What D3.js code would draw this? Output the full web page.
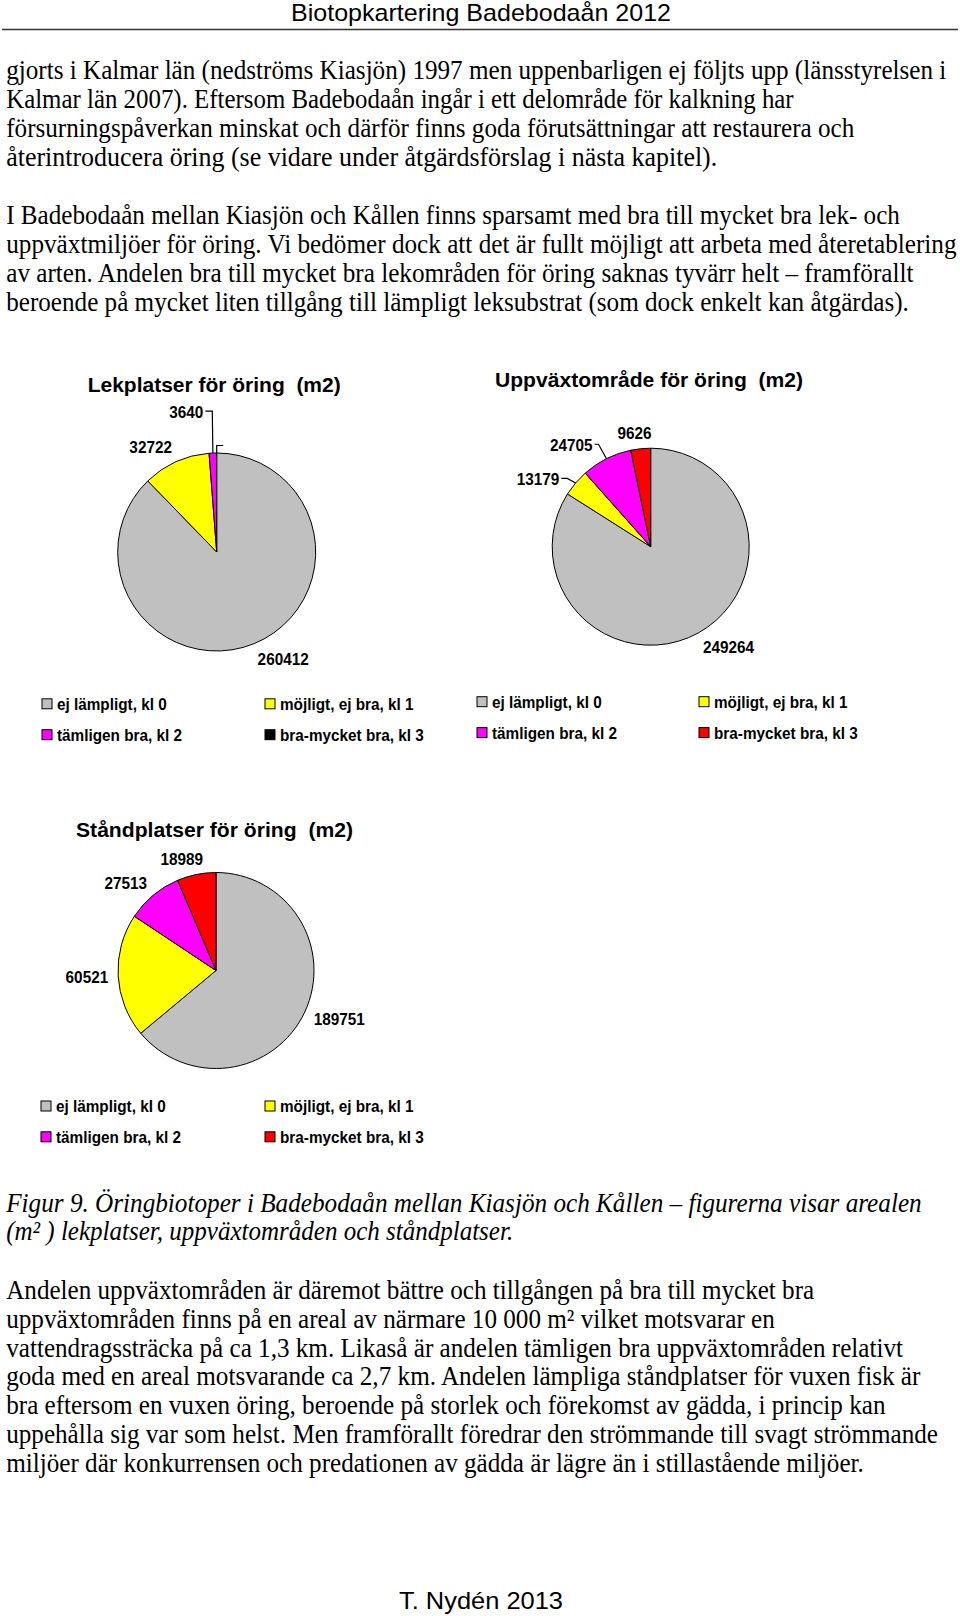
<!DOCTYPE html>
<html><head><meta charset="utf-8">
<script src="https://cdn.jsdelivr.net/npm/d3@7"></script>
<style>body{margin:0;background:#fff} svg{display:block}</style>
</head><body><svg id="c" width="960" height="1616"></svg>
<script>
// ---------- data ----------
const categories = ["ej lämpligt, kl 0", "möjligt, ej bra, kl 1", "tämligen bra, kl 2", "bra-mycket bra, kl 3"];
const lekValues = [260412, 32722, 3640, 0];
const uppValues = [249264, 13179, 24705, 9626];
const standValues = [189751, 60521, 27513, 18989];
const chartTitles = ["Lekplatser för öring  (m2)", "Uppväxtområde för öring  (m2)", "Ståndplatser för öring  (m2)"];
const colorsLek = ["#C0C0C0", "#FFFF00", "#FF00FF", "#000000"];
const colorsOther = ["#C0C0C0", "#FFFF00", "#FF00FF", "#FF0000"];

const headerText = "Biotopkartering Badebodaån 2012";
const footerText = "T. Nydén 2013";
const para1 = [
  "gjorts i Kalmar län (nedströms Kiasjön) 1997 men uppenbarligen ej följts upp (länsstyrelsen i",
  "Kalmar län 2007). Eftersom Badebodaån ingår i ett delområde för kalkning har",
  "försurningspåverkan minskat och därför finns goda förutsättningar att restaurera och",
  "återintroducera öring (se vidare under åtgärdsförslag i nästa kapitel)."
];
const para2 = [
  "I Badebodaån mellan Kiasjön och Kållen finns sparsamt med bra till mycket bra lek- och",
  "uppväxtmiljöer för öring. Vi bedömer dock att det är fullt möjligt att arbeta med återetablering",
  "av arten. Andelen bra till mycket bra lekområden för öring saknas tyvärr helt – framförallt",
  "beroende på mycket liten tillgång till lämpligt leksubstrat (som dock enkelt kan åtgärdas)."
];
const captionLines = [
  "Figur 9. Öringbiotoper i Badebodaån mellan Kiasjön och Kållen – figurerna visar arealen",
  "(m² ) lekplatser, uppväxtområden och ståndplatser."
];
const para3 = [
  "Andelen uppväxtområden är däremot bättre och tillgången på bra till mycket bra",
  "uppväxtområden finns på en areal av närmare 10 000 m² vilket motsvarar en",
  "vattendragssträcka på ca 1,3 km. Likaså är andelen tämligen bra uppväxtområden relativt",
  "goda med en areal motsvarande ca 2,7 km. Andelen lämpliga ståndplatser för vuxen fisk är",
  "bra eftersom en vuxen öring, beroende på storlek och förekomst av gädda, i princip kan",
  "uppehålla sig var som helst. Men framförallt föredrar den strömmande till svagt strömmande",
  "miljöer där konkurrensen och predationen av gädda är lägre än i stillastående miljöer."
];

// ---------- layout ----------
const svg = d3.select("#c");
const lineH = 28.87;
const textX = 6.2;
const para1Widths = [940.4, 787.8, 848.6, 711.5];
const para2Widths = [894, 950.7, 907.4, 903.2];
const captionWidths = [915.6, 507.3];
const para3Widths = [808.4, 769.2, 897.1, 914.6, 879.5, 932.1, 857.9];

function drawLines(lines, widths, y0, italic) {
  lines.forEach((ln, i) => {
    const g = svg.append("g");
    const t = g.append("text")
      .attr("x", 0).attr("y", 0)
      .attr("font-family", "'Liberation Serif', 'Times New Roman', serif")
      .attr("font-size", 27)
      .attr("font-style", italic ? "italic" : "normal")
      .attr("fill", "#000")
      .style("white-space", "pre")
      .text(ln);
    const w = t.node().getComputedTextLength();
    g.attr("transform", `translate(${textX},${y0 + i * lineH}) scale(${widths[i] / w},1)`);
  });
}

// header
svg.append("text").attr("x", 481).attr("y", 21).attr("text-anchor", "middle")
  .attr("font-family", "'Liberation Sans', Arial, sans-serif").attr("font-size", 24)
  .attr("textLength", 380).attr("lengthAdjust", "spacingAndGlyphs")
  .text(headerText);
svg.append("line").attr("x1", 2).attr("x2", 958).attr("y1", 29.5).attr("y2", 29.5)
  .attr("stroke", "#333").attr("stroke-width", 1.5);

drawLines(para1, para1Widths, 79, false);
drawLines(para2, para2Widths, 224.3, false);
drawLines(captionLines, captionWidths, 1211.5, true);
drawLines(para3, para3Widths, 1298.8, false);

// footer
svg.append("text").attr("x", 481).attr("y", 1609).attr("text-anchor", "middle")
  .attr("font-family", "'Liberation Sans', Arial, sans-serif").attr("font-size", 24)
  .attr("textLength", 164).attr("lengthAdjust", "spacingAndGlyphs")
  .text(footerText);

// ---------- pie charts ----------
const sansBold = "'Liberation Sans', Arial, sans-serif";
const squeeze = 0.9;
function condensed(sel) {
  const w = sel.node().getComputedTextLength();
  sel.attr("textLength", w * squeeze).attr("lengthAdjust", "spacingAndGlyphs");
  return w * squeeze;
}
const charts = [
  { values: lekValues, colors: colorsLek, title: chartTitles[0],
    cx: 216.7, cy: 552, r: 99, titleX: 87.7, titleY: 391.7, titleW: 253,
    legX: [42, 265], legY: [709.8, 740.7],
    leaders: { 2: { dx: -0.6, dy: -42, h: -7, show: true }, 3: { dx: 0, dy: -7.5, h: 6.5, show: false } } },
  { values: uppValues, colors: colorsOther, title: chartTitles[1],
    cx: 650.7, cy: 546.7, r: 98.5, titleX: 495, titleY: 386.7, titleW: 308,
    legX: [477, 699], legY: [707.7, 738.6],
    leaders: { 1: { dx: -8.4, dy: -4.5, h: -6, show: true }, 2: { dx: -8, dy: -14.4, h: -4, show: true } } },
  { values: standValues, colors: colorsOther, title: chartTitles[2],
    cx: 216, cy: 970.5, r: 98, titleX: 76, titleY: 836.7, titleW: 277,
    legX: [41, 265], legY: [1112, 1142.8],
    leaders: {} }
];

const fmt = d3.format("d");
const labelSize = 17;

charts.forEach(cfg => {
  const g = svg.append("g");
  g.append("text").attr("x", cfg.titleX).attr("y", cfg.titleY)
    .attr("font-family", sansBold).attr("font-weight", "bold").attr("font-size", 21)
    .attr("textLength", cfg.titleW).attr("lengthAdjust", "spacingAndGlyphs")
    .style("white-space", "pre")
    .text(cfg.title);

  const pie = d3.pie().sort(null).value(d => d);
  const arcs = pie(cfg.values);
  const arc = d3.arc().innerRadius(0).outerRadius(cfg.r);
  const pg = g.append("g").attr("transform", `translate(${cfg.cx},${cfg.cy})`);
  pg.selectAll("path").data(arcs.filter(d => d.value > 0)).join("path")
    .attr("d", arc)
    .attr("fill", d => cfg.colors[d.index])
    .attr("stroke", "#000").attr("stroke-width", 1).attr("stroke-linejoin", "round");

  arcs.forEach(d => {
    const a = (d.startAngle + d.endAngle) / 2;
    const sa = Math.sin(a), ca = -Math.cos(a);
    const ld = cfg.leaders[d.index];
    const lbl = fmt(d.value);
    if (ld) {
      const ax = cfg.r * sa, ay = cfg.r * ca;
      const ex = ax + ld.dx, ey = ay + ld.dy;
      const hx = ex + ld.h;
      pg.append("path").attr("d", `M${ax},${ay}L${ex},${ey}L${hx},${ey}`)
        .attr("fill", "none").attr("stroke", "#000").attr("stroke-width", 1.2);
      if (ld.show) {
        const t = pg.append("text").attr("x", hx + (ld.h < 0 ? -2 : 2)).attr("y", ey + 6.5)
          .attr("text-anchor", ld.h < 0 ? "end" : "start")
          .attr("font-family", sansBold).attr("font-weight", "bold").attr("font-size", labelSize)
          .text(lbl);
        condensed(t);
      }
      return;
    }
    if (d.value <= 0) return;
    const rr = cfg.r + 10;
    const px = rr * sa, py = rr * ca;
    const t = pg.append("text")
      .attr("font-family", sansBold).attr("font-weight", "bold").attr("font-size", labelSize)
      .attr("text-anchor", "middle").text(lbl);
    const w = condensed(t);
    const h = 12;
    const cxl = px + (w / 2) * Math.max(-1, Math.min(1, 3 * sa));
    const cyl = py + ca * h / 2;
    t.attr("x", cxl).attr("y", cyl + 6);
  });

  // legend
  categories.forEach((c, i) => {
    const col = i % 2, row = Math.floor(i / 2);
    const x = cfg.legX[col], y = cfg.legY[row];
    g.append("rect").attr("x", x).attr("y", y - 11).attr("width", 10).attr("height", 10)
      .attr("fill", cfg.colors[i]).attr("stroke", "#000").attr("stroke-width", 1);
    const t = g.append("text").attr("x", x + 15).attr("y", y)
      .attr("font-family", sansBold).attr("font-weight", "bold").attr("font-size", labelSize)
      .text(c);
    condensed(t);
  });
});
</script></body></html>
